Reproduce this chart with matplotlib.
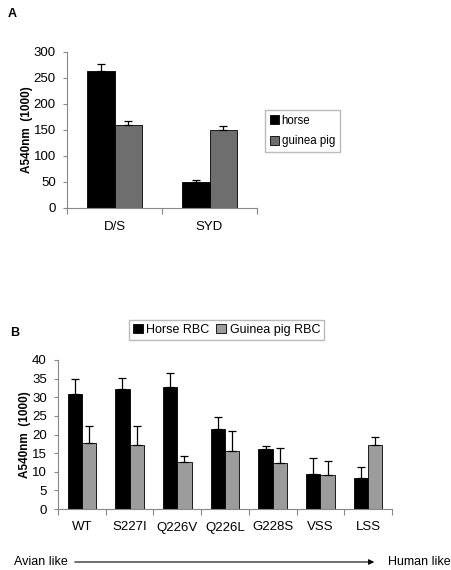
import matplotlib
matplotlib.use("Agg")
from matplotlib import pyplot as plt
import numpy as np

plt.rcParams['font.family'] = ['Liberation Sans', 'DejaVu Sans']

# panel A
cats_a = ["D/S", "SYD"]
horse_a = [264, 50]
horse_a_err = [13, 3]
gpig_a = [160, 150]
gpig_a_err = [8, 7]

# panel B
cats_b = ["WT", "S227I", "Q226V", "Q226L", "G228S", "VSS", "LSS"]
horse_b = [31.0, 32.2, 32.7, 21.5, 16.1, 9.3, 8.4]
horse_b_err = [3.8, 3.0, 3.8, 3.2, 0.8, 4.3, 3.0]
gpig_b = [17.8, 17.2, 12.7, 15.5, 12.3, 9.0, 17.3]
gpig_b_err = [4.6, 5.0, 1.5, 5.4, 4.0, 4.0, 1.9]

W, H = 451, 570
fig = plt.figure(figsize=(W/100, H/100), dpi=100)

def px_axes(l, r, t, b):
    return fig.add_axes([l/W, 1-b/H, (r-l)/W, (b-t)/H])

def style(ax):
    for s in ["top", "right"]:
        ax.spines[s].set_visible(False)
    for s in ["left", "bottom"]:
        ax.spines[s].set_color("#888888")
        ax.spines[s].set_linewidth(0.8)
    ax.tick_params(axis="y", colors="#888888", labelcolor="black", length=3, labelsize=9.5, pad=5)
    ax.tick_params(axis="x", which="major", colors="#888888", length=4, labelbottom=False)
    ax.tick_params(axis="x", which="minor", length=0, labelsize=9.5, pad=9)

# ---- A ----
axA = px_axes(67, 257, 52, 208)
x = np.arange(len(cats_a))
bw = 0.285
ekw = dict(ecolor="black", elinewidth=0.9, capsize=3, capthick=0.9)
axA.bar(x - bw/2, horse_a, bw, color="black", edgecolor="black", linewidth=0.6,
        yerr=[[0]*len(x), horse_a_err], error_kw=ekw, label="horse")
axA.bar(x + bw/2, gpig_a, bw, color="#6e6e6e", edgecolor="black", linewidth=0.6,
        yerr=[[0]*len(x), gpig_a_err], error_kw=ekw, label="guinea pig")
axA.set_xlim(-0.5, len(cats_a) - 0.5)
axA.set_ylim(0, 300)
axA.set_yticks(np.arange(0, 301, 50))
axA.set_xticks(np.arange(len(cats_a) + 1) - 0.5)
axA.set_xticks(x, cats_a, minor=True)
style(axA)
axA.set_ylabel("A540nm  (1000)", fontsize=8.5, fontweight="bold")
axA.yaxis.set_label_coords((33 - 67)/190, 0.5)
fig.text(8/W, 1-17/H, "A", fontsize=9, fontweight="bold")
hA, lA = axA.get_legend_handles_labels()
fig.legend(hA, lA, loc="upper left", bbox_to_anchor=(265/W, 1-110/H), fontsize=8.3,
           frameon=True, fancybox=False, edgecolor="#aaaaaa", handlelength=0.8,
           handleheight=0.8, handletextpad=0.25, borderpad=0.4, labelspacing=0.75,
           borderaxespad=0)

# ---- B ----
axB = px_axes(58, 392, 360, 509)
x = np.arange(len(cats_b))
bw = 0.3
axB.bar(x - bw/2, horse_b, bw, color="black", edgecolor="black", linewidth=0.6,
        yerr=[[0]*len(x), horse_b_err], error_kw=ekw, label="Horse RBC")
axB.bar(x + bw/2, gpig_b, bw, color="#9c9c9c", edgecolor="black", linewidth=0.6,
        yerr=[[0]*len(x), gpig_b_err], error_kw=ekw, label="Guinea pig RBC")
axB.set_xlim(-0.5, len(cats_b) - 0.5)
axB.set_ylim(0, 40)
axB.set_yticks(np.arange(0, 41, 5))
axB.set_xticks(np.arange(len(cats_b) + 1) - 0.5)
axB.set_xticks(x, cats_b, minor=True)
style(axB)
axB.set_ylabel("A540nm  (1000)", fontsize=8.5, fontweight="bold")
axB.yaxis.set_label_coords((31 - 58)/334, 0.5)
fig.text(10/W, 1-336/H, "B", fontsize=9, fontweight="bold")
hB, lB = axB.get_legend_handles_labels()
fig.legend(hB, lB, loc="upper left", bbox_to_anchor=(129/W, 1-320/H), ncol=2, fontsize=9,
           frameon=True, fancybox=False, edgecolor="#aaaaaa", handlelength=0.8,
           handleheight=0.8, handletextpad=0.3, borderpad=0.3, columnspacing=0.5,
           borderaxespad=0)

# arrow
fig.text(14/W, 1-562/H, "Avian like", fontsize=9, va="center")
fig.text(388/W, 1-562/H, "Human like", fontsize=9, va="center")
fig.add_artist(matplotlib.patches.FancyArrowPatch((72/W, 1-562/H), (377/W, 1-562/H),
               transform=fig.transFigure, arrowstyle="-|>", mutation_scale=8,
               color="black", linewidth=0.8))

fig.savefig("out.png", dpi=100)
